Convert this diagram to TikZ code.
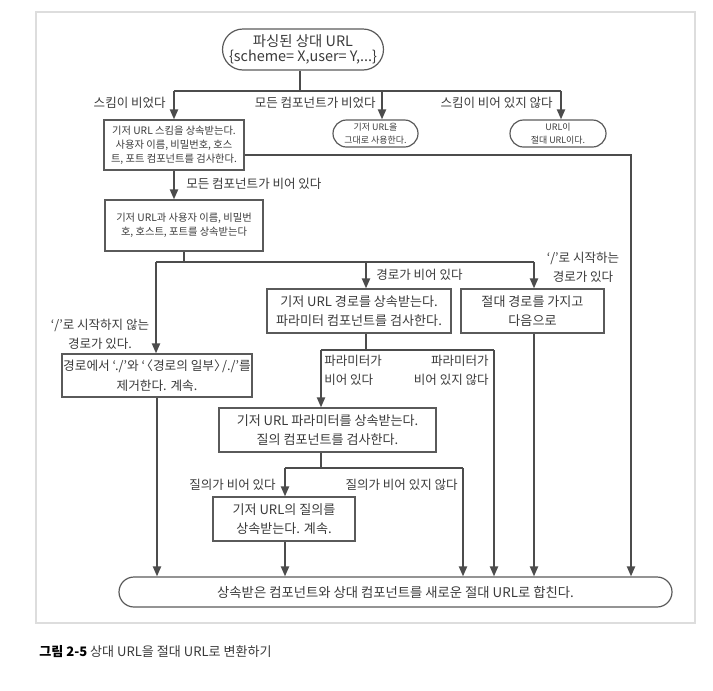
\documentclass[tikz,border=0pt]{standalone}
\usepackage{fontspec}
\setmainfont{Noto Sans CJK KR}
\usetikzlibrary{arrows.meta,shapes.misc}
\definecolor{txt}{HTML}{3A3A3A}
\definecolor{linec}{HTML}{4C4C4C}
\definecolor{boxc}{HTML}{5A5A5A}
\definecolor{framec}{HTML}{DDDDDD}
\tikzset{
  box/.style={draw=boxc, line width=0.9pt, text=txt, inner sep=0pt, align=center,
    font=\fontsize{9.8}{14.5}\selectfont},
  sbox/.style={box, font=\fontsize{7.7}{10.6}\selectfont},
  tbox/.style={box, font=\fontsize{6.7}{9.6}\selectfont},
  term/.style={box, rounded rectangle},
  lab/.style={text=txt, inner sep=0pt, font=\fontsize{9.4}{14}\selectfont},
  conn/.style={draw=linec, line width=1.5pt},
  arr/.style={conn, -{Triangle[length=7.5pt,width=6pt]}},
}
\begin{document}
\begin{tikzpicture}[x=0.75pt,y=-0.75pt]
\useasboundingbox (0,0) rectangle (713,690);
\draw[framec, line width=0.8pt] (36,12) rectangle (695,623);

% nodes
\node[term, font=\fontsize{10.8}{11.6}\selectfont, minimum width=112.5pt, minimum height=30.75pt] (top) at (303,49.5)
  {파싱된 상대 URL\\\{scheme= X,user= Y,...\}};
\node[sbox, minimum width=105pt, minimum height=37.5pt] (b1) at (174,145)
  {기저 URL 스킴을 상속받는다.\\사용자 이름, 비밀번호, 호스\\트, 포트 컴포넌트를 검사한다.};
\node[tbox, rounded rectangle, minimum width=63.75pt, minimum height=20.25pt] (n2) at (375.5,133.5)
  {기저 URL을\\그대로 사용한다.};
\node[tbox, rounded rectangle, minimum width=72pt, minimum height=20.25pt] (n3) at (558,133.5)
  {URL이\\절대 URL이다.};
\node[sbox, minimum width=118.5pt, minimum height=38.25pt] (b2) at (184,225.5)
  {기저 URL과 사용자 이름, 비밀번\\호, 호스트, 포트를 상속받는다};
\node[box, minimum width=138pt, minimum height=33pt] (b3) at (359,311)
  {기저 URL 경로를 상속받는다.\\파라미터 컴포넌트를 검사한다.};
\node[box, minimum width=107.25pt, minimum height=33pt] (b4) at (532.5,311)
  {절대 경로를 가지고\\다음으로};
\node[box, font=\fontsize{9.5}{14.5}\selectfont, minimum width=142.5pt, minimum height=32.25pt] (b5) at (157,375.5)
  {경로에서 ‘./’와 ‘\kern-3.5pt〈경로의 일부〉\kern-3.5pt/./’를\\제거한다. 계속.};
\node[box, minimum width=162.75pt, minimum height=33pt] (b6) at (327.5,430)
  {기저 URL 파라미터를 상속받는다.\\질의 컴포넌트를 검사한다.};
\node[box, minimum width=106.5pt, minimum height=33pt] (b7) at (284,519)
  {기저 URL의 질의를\\상속받는다. 계속.};
\node[term, font=\fontsize{10}{14}\selectfont, minimum width=414.75pt, minimum height=22.5pt] (bot) at (395.5,592)
  {상속받은 컴포넌트와 상대 컴포넌트를 새로운 절대 URL로 합친다.};

% junction coordinates
\coordinate (jL) at (174,91);
\coordinate (jM) at (382,91);
\coordinate (jR) at (561,91);
\coordinate (c1) at (631,155);
\coordinate (j2L) at (156,262);
\coordinate (j2M) at (366,262);
\coordinate (j2R) at (534,262);
\coordinate (j3L) at (321,350);
\coordinate (j3R) at (494,350);
\coordinate (j4L) at (285,468);
\coordinate (j4M) at (321,468);
\coordinate (j4R) at (463,468);

% connectors
\draw[conn] (top.south -| 300,0) -- (300,91);
\draw[conn] (jL) -- (jR);
\draw[arr] (jL) -- (jL |- b1.north);
\draw[arr] (jM) -- (jM |- n2.north);
\draw[arr] (jR) -- (jR |- n3.north);
\draw[arr] (b1.east |- c1) -- (c1) -- (c1 |- bot.north);
\draw[arr] (jL |- b1.south) -- (jL |- b2.north);
\draw[conn] (b2.south) -- (b2.south |- j2L);
\draw[conn] (j2L) -- (j2R);
\draw[arr] (j2L) -- (j2L |- b5.north);
\draw[arr] (j2M) -- (j2M |- b3.north);
\draw[arr] (j2R) -- (j2R |- b4.north);
\draw[conn] (j2M |- b3.south) -- (j2M |- j3L);
\draw[conn] (j3L) -- (j3R);
\draw[arr] (j3L) -- (j3L |- b6.north);
\draw[arr] (j3R) -- (j3R |- bot.north);
\draw[arr] (j2R |- b4.south) -- (j2R |- bot.north);
\draw[arr] (b5.south) -- (b5.south |- bot.north);
\draw[conn] (j3L |- b6.south) -- (j4M);
\draw[conn] (j4L) -- (j4R);
\draw[arr] (j4L) -- (j4L |- b7.north);
\draw[arr] (j4R) -- (j4R |- bot.north);
\draw[arr] (j4L |- b7.south) -- (j4L |- bot.north);

% labels
\node[lab, anchor=east] (l1) at (166,103) {스킴이 비었다};
\node[lab, anchor=east] (l2) at (376,103) {모든 컴포넌트가 비었다};
\node[lab, anchor=east] (l3) at (553,103) {스킴이 비어 있지 않다};
\node[lab, anchor=west] (l4) at (186,184) {모든 컴포넌트가 비어 있다};
\node[lab, anchor=west] (l5) at (376,275) {경로가 비어 있다};
\node[lab, align=center] (l6) at (583,267) {‘/’로 시작하는\\경로가 있다};
\node[lab, align=center] (l7) at (100,334) {‘/’로 시작하지 않는\\경로가 있다.};
\node[lab, align=left, anchor=west] (l8) at (324,370) {파라미터가\\비어 있다};
\node[lab, align=right, anchor=east] (l9) at (489,370) {파라미터가\\비어 있지 않다};
\node[lab, anchor=east] (l10) at (276,485) {질의가 비어 있다};
\node[lab, anchor=east] (l11) at (458,485) {질의가 비어 있지 않다};

% caption
\node[anchor=west, inner sep=0pt, text=txt, font=\fontsize{9.8}{12}\selectfont] (cap) at (39,652)
  {\textcolor{black}{\bfseries 그림 2-5} 상대 URL을 절대 URL로 변환하기};
\end{tikzpicture}
\end{document}
